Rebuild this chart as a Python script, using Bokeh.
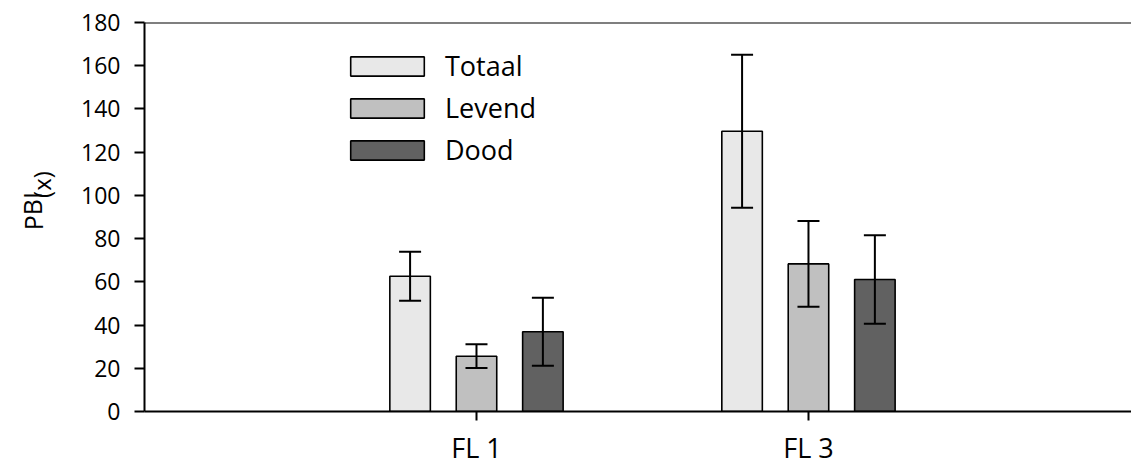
from bokeh.plotting import figure
from bokeh.models import (ColumnDataSource, Range1d, FixedTicker, Span, Whisker,
                          TeeHead, Legend, LegendItem, Label)
from bokeh.layouts import row
from bokeh.embed import file_html
from bokeh.resources import INLINE

# ---- data ----
categories = ["FL 1", "FL 3"]
series = ["Totaal", "Levend", "Dood"]
totaal = [62.6, 129.7]
totaal_err = [11.3, 35.4]
levend = [25.6, 68.3]
levend_err = [5.5, 19.8]
dood = [36.9, 61.1]
dood_err = [15.7, 20.5]
y_ticks = [0, 20, 40, 60, 80, 100, 120, 140, 160, 180]
y_title = "PBI"
y_title_sub = "(x)"

colors = ["#e8e8e8", "#c0c0c0", "#616161"]
offsets = [-0.2, 0.0, 0.2]
FONT = "Open Sans"

cat_pos = [i + 1 for i in range(len(categories))]

p = figure(width=1071, height=468, output_backend="svg", toolbar_location=None,
           x_range=Range1d(0.0, 2.973), y_range=Range1d(0, 180),
           min_border_left=84, min_border_right=0, min_border_top=22,
           min_border_bottom=57)
p.outline_line_color = None
p.xgrid.grid_line_color = None
p.ygrid.grid_line_color = None
p.background_fill_color = "white"
p.border_fill_color = "white"

items = []
for name, vals, errs, col, off in zip(series, [totaal, levend, dood],
                                      [totaal_err, levend_err, dood_err], colors, offsets):
    src = ColumnDataSource(dict(
        x=[c + off for c in cat_pos],
        top=vals,
        upper=[v + e for v, e in zip(vals, errs)],
        lower=[v - e for v, e in zip(vals, errs)],
    ))
    r = p.vbar(x="x", top="top", bottom=0, width=0.122, source=src,
               fill_color=col, line_color="black", line_width=1.6)
    w = Whisker(base="x", upper="upper", lower="lower", source=src,
                line_color="black", line_width=2, level="overlay",
                upper_head=TeeHead(size=22, line_width=2, line_color="black"),
                lower_head=TeeHead(size=22, line_width=2, line_color="black"))
    p.add_layout(w)
    items.append(LegendItem(label=name, renderers=[r]))

# top frame line
p.add_layout(Span(location=180, dimension="width", line_color="black", line_width=2))

# axes
p.xaxis.ticker = FixedTicker(ticks=cat_pos)
p.xaxis.major_label_overrides = {c: l for c, l in zip(cat_pos, categories)}
p.xaxis.minor_tick_line_color = None
p.xaxis.major_tick_in = 0
p.xaxis.major_tick_out = 9
p.xaxis.major_tick_line_width = 2
p.xaxis.axis_line_width = 2
p.xaxis.major_label_text_font = FONT
p.xaxis.major_label_text_font_size = "27px"
p.xaxis.major_label_text_color = "black"
p.xaxis.major_label_standoff = 8

p.yaxis.ticker = FixedTicker(ticks=y_ticks)
p.yaxis.minor_tick_line_color = None
p.yaxis.major_tick_in = 0
p.yaxis.major_tick_out = 10
p.yaxis.major_tick_line_width = 2
p.yaxis.axis_line_width = 2
p.yaxis.major_label_text_font = FONT
p.yaxis.major_label_text_font_size = "23px"
p.yaxis.major_label_text_color = "black"
p.yaxis.major_label_standoff = 14

legend = Legend(items=items, location=(197, 243), orientation="vertical",
                glyph_width=92, glyph_height=24, label_standoff=12,
                label_text_font=FONT, label_text_font_size="27px",
                label_text_color="black", spacing=5, padding=0, margin=0,
                border_line_color=None, background_fill_alpha=0)
p.add_layout(legend)

# narrow strip holding the rotated y-axis title PBI(x) with subscript
t = figure(width=60, height=468, output_backend="svg", toolbar_location=None,
           x_range=Range1d(0, 60), y_range=Range1d(0, 468),
           min_border_left=0, min_border_right=0, min_border_top=0, min_border_bottom=0)
t.axis.visible = False
t.grid.grid_line_color = None
t.outline_line_color = None
t.background_fill_color = "white"
t.border_fill_color = "white"
t.add_layout(Label(x=32, y=218, text=y_title, angle=1.5708, text_font=FONT,
                   text_font_size="25px", text_color="black",
                   text_align="left", text_baseline="alphabetic"))
t.add_layout(Label(x=41, y=257, text=y_title_sub, angle=1.5708, text_font=FONT,
                   text_font_size="24px", text_color="black",
                   text_align="left", text_baseline="alphabetic"))

layout = row(t, p, spacing=0)
open("out.html", "w").write(file_html(layout, INLINE))
